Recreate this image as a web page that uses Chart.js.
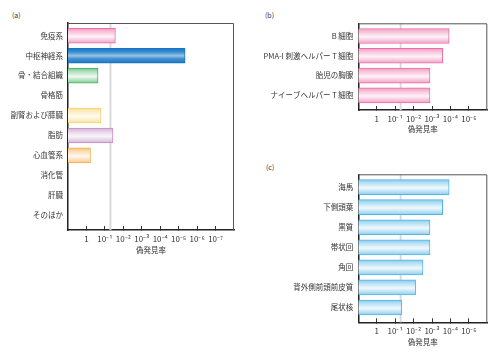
<!DOCTYPE html>
<html><head><meta charset="utf-8">
<script src="https://cdn.jsdelivr.net/npm/chart.js@4/dist/chart.umd.min.js"></script>
<style>
html,body{margin:0;padding:0;background:#fff;}
body{width:500px;height:359px;overflow:hidden;position:relative;font-family:"Noto Sans CJK JP",sans-serif;}
canvas{position:absolute;display:block;}
.lbl{position:absolute;font-size:7px;color:#333;line-height:9px;}
</style></head><body>
<div class="lbl" style="left:12px;top:11px">(a)</div>
<div class="lbl" style="left:265px;top:11px">(b)</div>
<div class="lbl" style="left:266px;top:163px">(c)</div>
<canvas id="ca" width="250" height="257" style="left:0;top:0"></canvas>
<canvas id="cb" width="250" height="136" style="left:250px;top:0"></canvas>
<canvas id="cc" width="250" height="199" style="left:250px;top:150px"></canvas>
<script>
// ---- data ----
const catsA = ['免疫系','中枢神経系','骨・結合組織','骨格筋','副腎および膵臓','脂肪','心血管系','消化管','肝臓','そのほか'];
const valsA = [1.57, 5.35, 0.63, null, 0.79, 1.44, 0.22, null, null, null];
const catsB = ['B 細胞','PMA-I 刺激ヘルパー T 細胞','胎児の胸腺','ナイーブヘルパー T 細胞'];
const valsB = [3.93, 3.58, 2.89, 2.89];
const catsC = ['海馬','下側頭葉','黒質','帯状回','角回','背外側前頭前皮質','尾状核'];
const valsC = [3.93, 3.58, 2.89, 2.89, 2.51, 2.11, 1.35];
const tickValsA = [0,1,2,3,4,5,6,7];
const tickLabelsA = ['1','10⁻¹','10⁻²','10⁻³','10⁻⁴','10⁻⁵','10⁻⁶','10⁻⁷'];
const tickValsBC = [0,1,2,3,4,5];
const tickLabelsBC = ['1','10⁻¹','10⁻²','10⁻³','10⁻⁴','10⁻⁵'];
const threshold = 1.3;   // -log10(0.05)
const axisTitle = '偽発見率';

// ---- styles ----
const colorsA = ['#ec6ea6','#1777c4','#3db35c','#999999','#f5d36a','#c18dc3','#f6ac4c','#999999','#999999','#999999'];
const colorsB = catsB.map(()=>'#ec6ea6');
const colorsC = catsC.map(()=>'#52b5e6');
const BAR_T = 15;

function hexRgb(h){h=h.replace('#','');return [0,2,4].map(i=>parseInt(h.substr(i,2),16));}
function mix(hex,a){const [r,g,b]=hexRgb(hex);const m=c=>Math.round(255+(c-255)*a);return `rgb(${m(r)},${m(g)},${m(b)})`;}
function profile(hex){
  return hex==='#1777c4'
    ? [[0,1],[0.25,0.85],[0.5,0.45],[0.7,0.8],[1,1]]
    : [[0,0.7],[0.2,0.45],[0.55,0.08],[0.8,0.4],[1,0.65]];
}
function gradFor(chart, idx, c){
  const ys=chart.scales && chart.scales.y;
  if(!chart.chartArea||!ys) return mix(c,0.4);
  const yc=ys.getPixelForValue(idx);
  const g=chart.ctx.createLinearGradient(0,yc-BAR_T/2,0,yc+BAR_T/2);
  profile(c).forEach(([s,a])=>g.addColorStop(s,mix(c,a)));
  return g;
}

const framePlugin = {
  id:'frame',
  beforeDatasetsDraw(chart){
    const {ctx, chartArea:a, scales:{x}} = chart;
    const px = x.getPixelForValue(threshold);
    ctx.save();
    ctx.strokeStyle='#dadada'; ctx.lineWidth=2;
    ctx.beginPath(); ctx.moveTo(px,a.top); ctx.lineTo(px,a.bottom); ctx.stroke();
    ctx.strokeStyle='#555'; ctx.lineWidth=1;
    ctx.beginPath(); ctx.moveTo(a.left,a.top+0.5); ctx.lineTo(a.right-0.5,a.top+0.5); ctx.lineTo(a.right-0.5,a.bottom); ctx.stroke();
    ctx.restore();
  }
};

const FONT = "'Noto Sans CJK JP', sans-serif";

function makeChart(id, cats, vals, colors, tickVals, tickLabels, xMax, cfg){
  const n = cats.length;
  new Chart(document.getElementById(id), {
    type:'bar',
    data:{datasets:[{
      data: vals.map((v,i)=>v==null?null:{x:v,y:i}).filter(d=>d),
      base:-1,
      barThickness:BAR_T,
      backgroundColor: ctx=>gradFor(ctx.chart, ctx.raw?ctx.raw.y:0, colors[ctx.raw?ctx.raw.y:0]),
      borderColor: ctx=>colors[ctx.raw?ctx.raw.y:0],
      borderWidth:1,
      borderSkipped:'start'
    }]},
    options:{
      indexAxis:'y', responsive:false, animation:false,
      layout:{padding:{left:0, top:cfg.top, right:cfg.right, bottom:0}},
      plugins:{legend:{display:false}, tooltip:{enabled:false}},
      scales:{
        x:{type:'linear', min:-1, max:xMax, offset:false,
          afterBuildTicks:s=>{s.ticks=tickVals.map(v=>({value:v}));},
          ticks:{callback:(v)=>tickLabels[tickVals.indexOf(v)], autoSkip:false, maxRotation:0, padding:8,
                 font:{family:FONT,size:8}, color:'#333'},
          grid:{display:true, drawOnChartArea:false, drawTicks:true, tickLength:-4, color:'#333', lineWidth:1},
          border:{display:true, color:'#222', width:1.5},
          title:{display:true, text:axisTitle, font:{family:FONT,size:7.5}, color:'#333', padding:{top:0,bottom:2}},
          afterFit:s=>{s.height=cfg.xH;}
        },
        y:{type:'linear', reverse:true, offset:false, min:-0.64, max:n-1+0.74,
          afterBuildTicks:s=>{s.ticks=cats.map((_,i)=>({value:i}));},
          ticks:{callback:v=>cats[v], autoSkip:false, padding:5, font:{family:FONT,size:7.5}, color:'#333'},
          grid:{display:false, drawTicks:false, offset:false},
          border:{display:true, color:'#222', width:1.5},
          afterFit:s=>{s.width=cfg.yW;}
        }
      }
    },
    plugins:[framePlugin]
  });
}

makeChart('ca', catsA, valsA, colorsA, tickValsA, tickLabelsA, 8, {top:23, right:16, yW:68, xH:27});
makeChart('cb', catsB, valsB, colorsB, tickValsBC, tickLabelsBC, 6, {top:23.3, right:12.7, yW:108.3, xH:26});
makeChart('cc', catsC, valsC, colorsC, tickValsBC, tickLabelsBC, 6, {top:24.3, right:12.7, yW:108.3, xH:26.7});
</script>
</body></html>
